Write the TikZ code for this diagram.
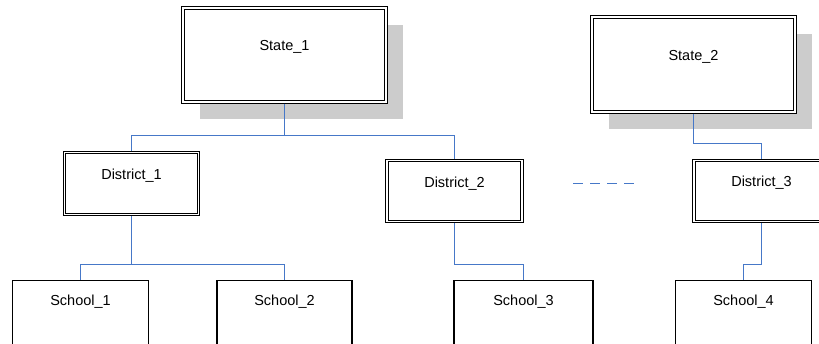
\documentclass[tikz,border=0pt]{standalone}
\usepackage{fontspec}
\setmainfont{Liberation Sans}
\usetikzlibrary{shadows}
\definecolor{connblue}{RGB}{70,120,200}
\definecolor{shadowgray}{RGB}{204,204,204}
\begin{document}
\begin{tikzpicture}[x=1pt,y=-1pt,
  every node/.style={inner sep=0pt, font=\fontsize{14.5}{16}\selectfont},
  dbox/.style={draw=black, line width=0.8pt, double=white, double distance=1.6pt,
    fill=white, outer sep=1.6pt, rectangle},
  shbox/.style={dbox, drop shadow={shadow xshift=17pt, shadow yshift=-17pt,
    fill=shadowgray, opacity=1}},
  sbox/.style={draw=black, line width=1.3pt, fill=white, rectangle,
    minimum width=135pt, minimum height=70pt, text height=25pt, text depth=45pt},
  conn/.style={draw=connblue, line width=1.4pt},
  dashconn/.style={draw=connblue, line width=1.4pt, dash pattern=on 10pt off 7pt}]
\clip (0,0) rectangle (819,343);
\fill[white] (0,0) rectangle (819,343);
% states
\node[shbox, minimum width=203pt, minimum height=94pt, text height=42pt, text depth=52pt] (S1) at (284.5,55) {State\_1};
\node[shbox, minimum width=203pt, minimum height=95pt, text height=43pt, text depth=52pt] (S2) at (693.5,64.5) {State\_2};
% districts
\node[dbox, minimum width=134pt, minimum height=62pt, text height=26.5pt, text depth=35.5pt] (D1) at (131.5,183.5) {District\_1};
\node[dbox, minimum width=135pt, minimum height=61pt, text height=26.5pt, text depth=34.5pt] (D2) at (454.5,191) {District\_2};
\node[dbox, minimum width=135pt, minimum height=61pt, text height=26pt, text depth=35pt] (D3) at (761.5,191) {District\_3};
% schools
\node[sbox, minimum width=136pt] (C1) at (80.5,315.6) {School\_1};
\node[sbox] (C2) at (284.5,315.6) {School\_2};
\node[sbox, minimum width=139pt] (C3) at (523.5,315.6) {School\_3};
\node[sbox, minimum width=136pt] (C4) at (743.5,315.6) {School\_4};
% connectors
\draw[conn] (S1.south) -- (S1.south |- 0,135.5) -| (D1.north);
\draw[conn] (S1.south |- 0,135.5) -| (D2.north);
\draw[conn] (S2.south) -- (S2.south |- 0,143.5) -| (D3.north);
\draw[conn] (D1.south) -- (D1.south |- 0,264.5) -| (C1.north);
\draw[conn] (D1.south |- 0,264.5) -| (C2.north);
\draw[conn] (D2.south) -- (D2.south |- 0,264.5) -| (C3.north);
\draw[conn] (D3.south) -- (D3.south |- 0,264.5) -| (C4.north);
\coordinate (dashL) at (573,183.5);
\coordinate (dashR) at (638,183.5);
\draw[dashconn] (dashL) -- (dashR);
\end{tikzpicture}
\end{document}
